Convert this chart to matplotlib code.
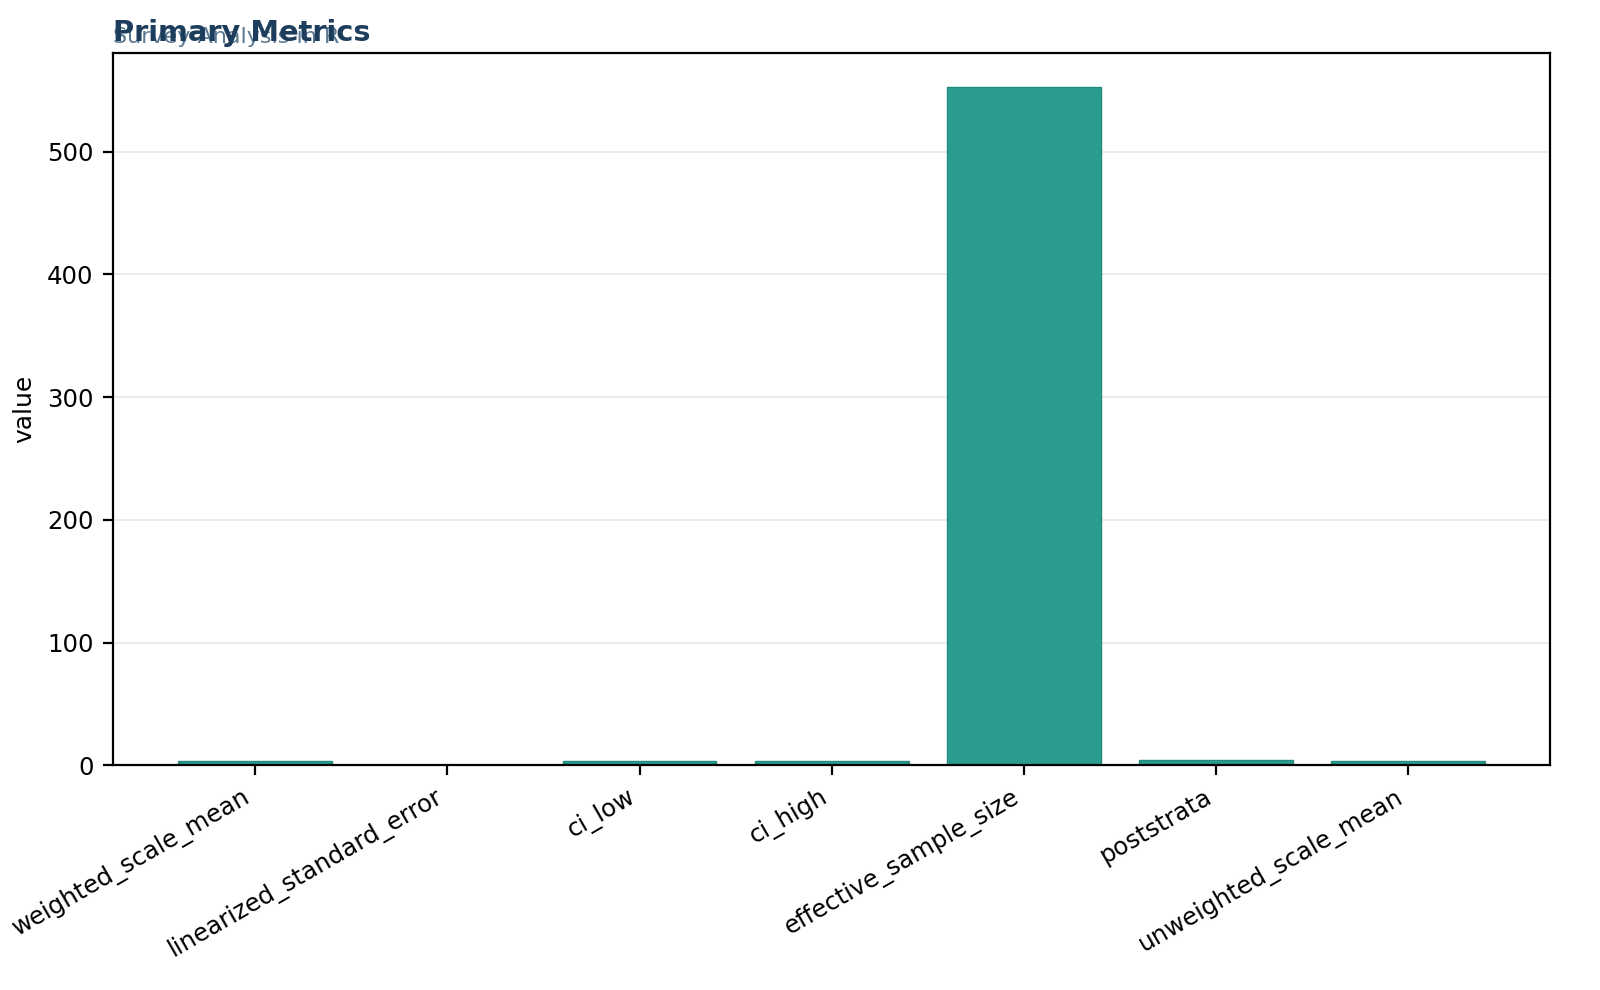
import matplotlib
matplotlib.use('Agg')
import matplotlib.pyplot as plt

metrics = ['weighted_scale_mean', 'linearized_standard_error', 'ci_low', 'ci_high',
           'effective_sample_size', 'poststrata', 'unweighted_scale_mean']
values = [3.4, 0.05, 3.3, 3.5, 552.5, 4.0, 3.45]

fig, ax = plt.subplots(figsize=(8, 4.95), dpi=200)
fig.subplots_adjust(left=0.0706, right=0.969, top=0.946, bottom=0.227)

ax.bar(metrics, values, color='#2a9d8f', edgecolor='#238a7d', linewidth=0.5, width=0.8, zorder=2)
ax.yaxis.grid(True, color='#e6e6e6', linewidth=0.6, zorder=0)
ax.set_axisbelow(True)
ax.set_ylabel('value', fontsize=9)
ax.tick_params(labelsize=8.8)
plt.setp(ax.get_xticklabels(), rotation=30, ha='right')

# title and subtitle sit on top of each other, like the original
ax.set_title('Primary Metrics', loc='left', fontsize=10.4, fontweight='bold', color='#1d3d5c', pad=4.5)
ax.text(0, 1.014, 'Survey Analysis in R', transform=ax.transAxes, fontsize=8,
        color='#4a6b85', alpha=0.9, ha='left', va='baseline')

fig.savefig('out.png')
